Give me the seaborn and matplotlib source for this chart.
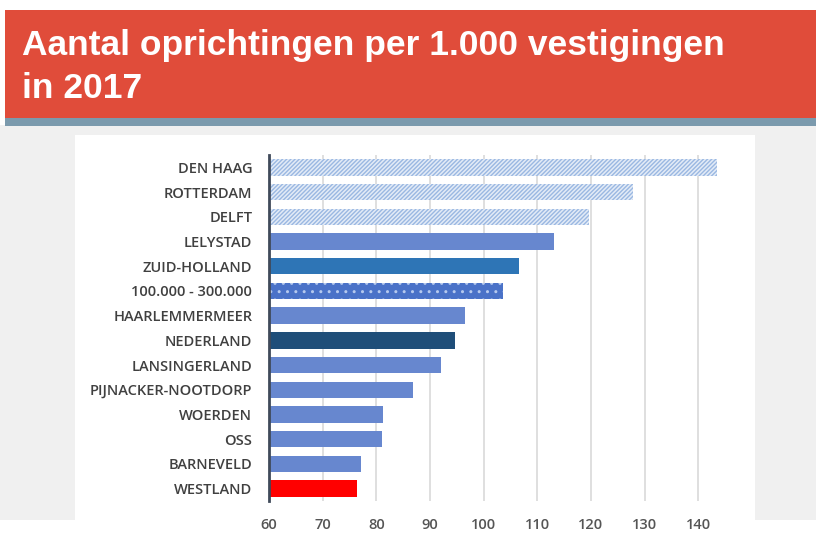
import matplotlib
matplotlib.use("Agg")
import matplotlib.pyplot as plt
import matplotlib.patches as mpatches
import seaborn as sns
import pandas as pd

# Data
categories = ["DEN HAAG", "ROTTERDAM", "DELFT", "LELYSTAD", "ZUID-HOLLAND",
              "100.000 - 300.000", "HAARLEMMERMEER", "NEDERLAND", "LANSINGERLAND",
              "PIJNACKER-NOOTDORP", "WOERDEN", "OSS", "BARNEVELD", "WESTLAND"]
values = [143.6, 127.9, 119.7, 113.2, 106.6, 103.7, 96.6, 94.7, 92.1,
          86.9, 81.3, 81.1, 77.2, 76.4]
bar_colors = ["#e3ebf7", "#e3ebf7", "#e3ebf7", "#6787cf", "#2e75b6",
              "#4a72c8", "#6787cf", "#1f4e79", "#6787cf",
              "#6787cf", "#6787cf", "#6787cf", "#6787cf", "#ff0000"]
hatch_colors = ["#9ab8e2", "#9ab8e2", "#9ab8e2", None, None,
                "#b5c9ee", None, None, None, None, None, None, None, None]
hatches = ["////////", "////////", "////////", "", "", "..", "", "", "", "", "", "", "", ""]
x_ticks = [60, 70, 80, 90, 100, 110, 120, 130, 140]

df = pd.DataFrame({"gebied": categories, "waarde": values})

sns.set_style("white")
plt.rcParams["hatch.linewidth"] = 1.0

fig = plt.figure(figsize=(8.16, 5.47), dpi=100)
fig.patch.set_facecolor("white")

W, H = 816, 547
def rect(x0, y0, x1, y1, color):
    fig.patches.append(mpatches.Rectangle((x0 / W, 1 - y1 / H), (x1 - x0) / W, (y1 - y0) / H,
                                          transform=fig.transFigure, facecolor=color,
                                          edgecolor="none", zorder=-5))

# background panels
rect(0, 125, W, 520, "#f0f0f0")
rect(5, 10, W, 118, "#e04c3a")
rect(5, 118, W, 126, "#7b9aad")
rect(75, 135, 755, 547, "white")

fig.text(22 / W, 1 - 45 / H, "Aantal oprichtingen per 1.000 vestigingen",
         color="white", fontsize=25.5, fontweight="bold",
         family=["Liberation Sans"], va="center", ha="left")
fig.text(22 / W, 1 - 88 / H, "in 2017",
         color="white", fontsize=25.5, fontweight="bold",
         family=["Liberation Sans"], va="center", ha="left")

ax = fig.add_axes([269 / W, 1 - 501 / H, (725 - 269) / W, (501 - 155) / H])
ax.set_facecolor("none")

sns.barplot(data=df, y="gebied", x="waarde", hue="gebied", palette=bar_colors,
            legend=False, width=0.66, ax=ax, orient="h", saturation=1)

for patch, hc, hatch in zip(ax.patches, hatch_colors, hatches):
    patch.set_linewidth(0)
    if hatch:
        patch.set_hatch(hatch)
        patch.set_edgecolor(hc)

ax.set_xlim(60, 145)
ax.set_xticks(x_ticks)
ax.set_xlabel("")
ax.set_ylabel("")
ax.grid(axis="x", color="#d9d9d9", linewidth=1.2)
ax.set_axisbelow(True)
for side in ["top", "right", "bottom"]:
    ax.spines[side].set_visible(False)
ax.spines["left"].set_color("#404a5a")
ax.spines["left"].set_linewidth(2)

ax.tick_params(axis="x", length=0, pad=12, labelsize=10.5, labelcolor="#555555")
ax.tick_params(axis="y", length=0, pad=12, labelsize=10.5, labelcolor="#404040")
for lab in ax.get_xticklabels():
    lab.set_family(["Open Sans", "DejaVu Sans"])
    lab.set_fontweight("semibold")
for lab in ax.get_yticklabels():
    lab.set_family(["Open Sans", "DejaVu Sans"])
    lab.set_fontweight("semibold")

fig.savefig("out.png", dpi=100)
